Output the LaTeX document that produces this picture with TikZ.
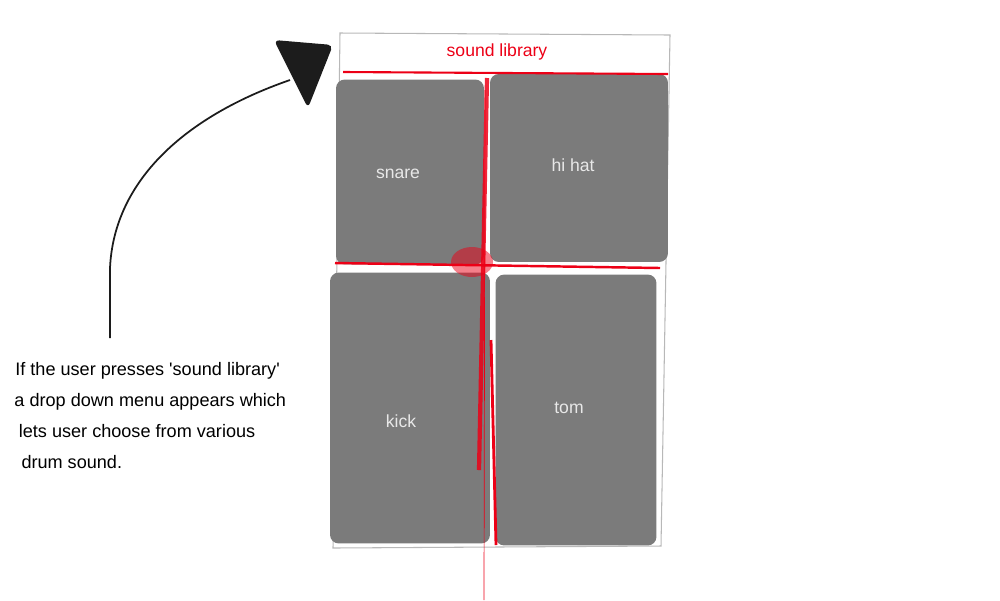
\documentclass[tikz,border=0pt]{standalone}
\usepackage{fontspec}
\setmainfont{Liberation Sans}
\usetikzlibrary{positioning}
\definecolor{padgray}{RGB}{123,123,123}
\definecolor{padtext}{RGB}{232,232,232}
\definecolor{sketchred}{RGB}{236,0,22}
\definecolor{inkblack}{RGB}{28,28,28}

\begin{document}
\begin{tikzpicture}[
    x=0.02cm, y=-0.02cm,
    pad/.style={
        fill=padgray,
        rounded corners=5pt,
        inner sep=0pt
    },
    padlabel/.style={text=padtext, font=\fontsize{10}{12}\selectfont},
    frameline/.style={draw=black!28, line width=0.6pt},
    redline/.style={draw=sketchred, line width=1.4pt}
]
\useasboundingbox (0,0) rectangle (1000,600);

% Phone frame
\draw[frameline] (340,33) -- (670,35) -- (661,546) -- (333,548) -- cycle;

% Drum pads
\node[pad, minimum width=2.96cm, minimum height=3.7cm] (snare) at (410,172) {};
\node[pad, minimum width=3.56cm, minimum height=3.76cm] (hihat) at (579,168) {};
\node[pad, minimum width=3.2cm, minimum height=5.42cm] (kick) at (410,408) {};
\node[pad, minimum width=3.22cm, minimum height=5.42cm] (tom) at (576,410) {};

\node[padlabel] (snarelabel) at (398,174) {snare};
\node[padlabel] (hihatlabel) at (573,165) {hi hat};
\node[padlabel] (kicklabel) at (401,421) {kick};
\node[padlabel] (tomlabel) at (569,408) {tom};

% Red cross
\fill[sketchred, opacity=0.5] (472,262) ellipse [x radius=0.42cm, y radius=0.3cm];
\draw[redline] (335,263) -- (660,268);
\draw[redline, line width=2.4pt, opacity=0.85] (487,78) -- (479,470);
\draw[sketchred, line width=0.4pt] (485,90) -- (484,600);
\draw[redline, line width=1.6pt] (491,340) -- (496,545);

% Header
\draw[redline, line width=1.2pt] (343,72) -- (668,74);
\node[text=sketchred, font=\fontsize{10}{12}\selectfont] (library) at (497,52) {sound library};

% Arrow to header
\coordinate (tail) at (110,338);
\coordinate (tip) at (290,80);
\draw[inkblack, line width=1pt] (tail) -- (110,268) .. controls (114,180) and (186,116) .. (tip);
\fill[inkblack, rounded corners=3pt] (274,40) -- (333,45) -- (308,108) -- cycle;

% Note
\node[anchor=north west, align=left, inner sep=0pt,
      font=\fontsize{10.3}{17.6}\selectfont] (note) at (15,362) {
    If the user presses \textquotesingle sound library\textquotesingle\\
    \hspace{-0.5pt}a drop down menu appears which\\
    \hspace{2pt}lets user choose from various\\
    \hspace{3.5pt}drum sound.
};

\end{tikzpicture}
\end{document}
